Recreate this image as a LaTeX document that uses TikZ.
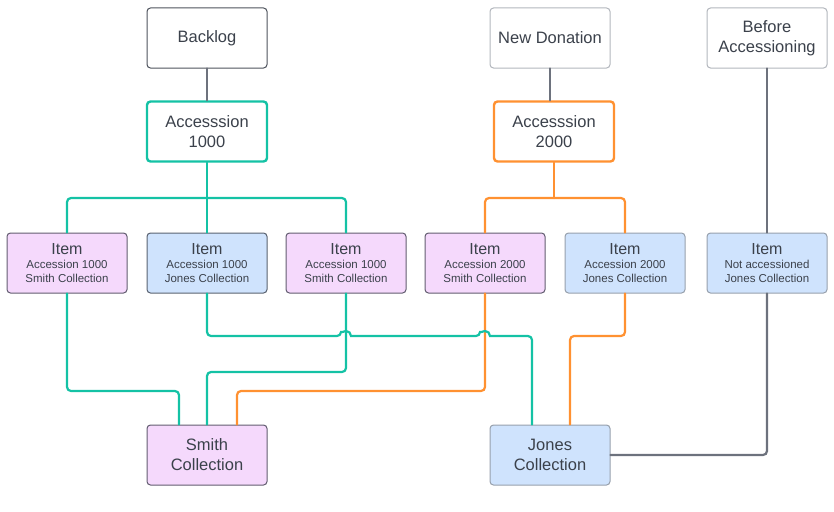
\documentclass[tikz,border=0pt]{standalone}
\usepackage{fontspec}
\setmainfont{Liberation Sans}
\definecolor{tealc}{HTML}{14C2A5}
\definecolor{orangec}{HTML}{FF9131}
\definecolor{greyc}{HTML}{6D727D}
\definecolor{txt}{HTML}{3B414B}
\definecolor{pinkf}{HTML}{F5D9FC}
\definecolor{bluef}{HTML}{CFE3FD}
\definecolor{darkb}{HTML}{4E535D}
\definecolor{lightb}{HTML}{B3B7BD}
\definecolor{pinkb}{HTML}{625D70}
\definecolor{blueb}{HTML}{5A6270}
\definecolor{bluelb}{HTML}{97A0AC}
\begin{document}
\begin{tikzpicture}[x=1pt,y=-1pt,
  box/.style={rectangle, rounded corners=3.5pt, minimum width=120pt, minimum height=60pt,
    inner sep=0pt, align=center, text=txt, line width=1pt, font=\fontsize{16.5}{20}\selectfont},
  topbox/.style={box, draw=#1, fill=white},
  accbox/.style={box, draw=#1, fill=white, line width=2.4pt},
  itembox/.style={box, fill=#1, font=\fontsize{11.5}{14}\selectfont},
  colbox/.style={box, fill=#1},
  wire/.style={line width=2.2pt, rounded corners=4pt, line cap=round},
  tw/.style={wire, draw=tealc},
  ow/.style={wire, draw=orangec},
  gw/.style={wire, draw=greyc}]
\useasboundingbox (0,0) rectangle (834,511);

\coordinate (j1) at (207,198);
\coordinate (j2) at (554,198);

% top row nodes
\node[topbox=darkb] (backlog) at (207,38) {\raisebox{1.5pt}{Backlog}};
\node[topbox=lightb] (newdon) at (550,38) {\raisebox{1.5pt}{New Donation}};
\node[topbox=lightb] (before) at (767,38) {Before\\Accessioning};

\node[accbox=tealc] (acc1) at (207,131.5) {Accesssion\\1000};
\node[accbox=orangec] (acc2) at (554,131.5) {Accesssion\\2000};

\node[itembox=pinkf, draw=pinkb] (i1) at (67,263)
  {{\fontsize{16}{18}\selectfont Item}\\[-0.5pt]Accession 1000\\Smith Collection};
\node[itembox=bluef, draw=blueb] (i2) at (207,263)
  {{\fontsize{16}{18}\selectfont Item}\\[-0.5pt]Accession 1000\\Jones Collection};
\node[itembox=pinkf, draw=pinkb] (i3) at (346,263)
  {{\fontsize{16}{18}\selectfont Item}\\[-0.5pt]Accession 1000\\Smith Collection};
\node[itembox=pinkf, draw=pinkb] (i4) at (485,263)
  {{\fontsize{16}{18}\selectfont Item}\\[-0.5pt]Accession 2000\\Smith Collection};
\node[itembox=bluef, draw=bluelb] (i5) at (625,263)
  {{\fontsize{16}{18}\selectfont Item}\\[-0.5pt]Accession 2000\\Jones Collection};
\node[itembox=bluef, draw=bluelb] (i6) at (767,263)
  {{\fontsize{16}{18}\selectfont Item}\\[-0.5pt]Not accessioned\\Jones Collection};

\node[colbox=pinkf, draw=pinkb] (smith) at (207,455) {Smith\\Collection};
\node[colbox=bluef, draw=bluelb] (jones) at (550,455) {Jones\\Collection};

% grey connectors
\draw[gw] (backlog.south) -- (acc1.north);
\draw[gw] (newdon.south) -- (newdon.south |- acc2.north);
\draw[gw] (before.south) -- (i6.north);
\draw[gw] (i6.south) |- (jones.east);

% teal tree
\draw[tw] (acc1.south) -- (j1);
\draw[tw] (j1) -| (i1.north);
\draw[tw] (j1) -- (i2.north);
\draw[tw] (j1) -| (i3.north);

% orange tree
\draw[ow] (acc2.south) -- (j2);
\draw[ow] (j2) -| (i4.north);
\draw[ow] (j2) -| (i5.north);

% items to collections
\draw[tw] (i1.south) -- (67,391) -- (179,391) -- (179,425 |- smith.north);
\draw[tw] (i3.south) -- (346,372) -- (207,372) -- (smith.north);
\draw[ow] (i4.south) -- (485,391) -- (237,391) -- (237,425 |- smith.north);
\draw[ow] (i5.south) -- (625,336) -- (570,336) -- (570,425 |- jones.north);
\draw[tw] (i2.south) -- (207,336) -- (341,336)
  {[sharp corners] arc[start angle=180, end angle=360, radius=5]} -- (480,336)
  {[sharp corners] arc[start angle=180, end angle=360, radius=5]} -- (532,336) -- (532,425 |- jones.north);
\end{tikzpicture}
\end{document}
